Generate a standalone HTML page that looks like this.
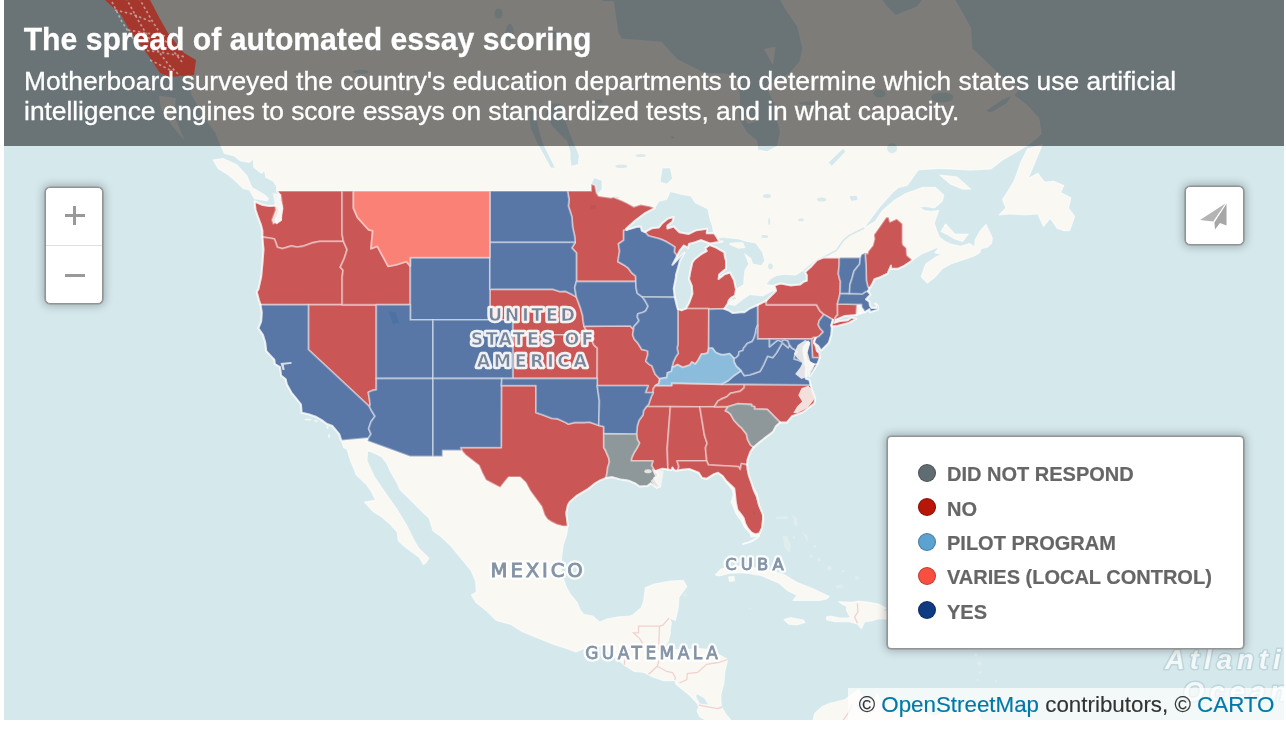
<!DOCTYPE html>
<html lang="en">
<head>
<meta charset="utf-8">
<title>The spread of automated essay scoring</title>
<style>
html,body{margin:0;padding:0;background:#fff;}
body{width:1286px;height:742px;overflow:hidden;position:relative;font-family:"Liberation Sans",Helvetica,Arial,sans-serif;}
#map{position:absolute;left:4px;top:0;width:1280px;height:720px;overflow:hidden;background:#D5E8EC;}
svg.map{position:absolute;left:0;top:0;display:block;}
.header{position:absolute;left:0;top:0;width:1280px;height:146px;background:rgba(0,0,0,.5);}
svg.ak{position:absolute;left:0;top:0;display:block;}
.htext{position:absolute;left:0;top:0;width:1280px;height:146px;color:#fff;}
.htext h1{position:absolute;left:19.7px;top:22.6px;-webkit-text-stroke:.25px #fff;transform:scaleY(1.02);transform-origin:0 27.2px;margin:0;font-size:30.15px;line-height:34px;font-weight:bold;white-space:nowrap;}
.htext p{position:absolute;left:20.1px;top:65.6px;-webkit-text-stroke:.3px #fff;margin:0;font-size:26.4px;line-height:30px;font-weight:normal;width:1260px;white-space:nowrap;}
.ctl{position:absolute;background:#fff;border:1px solid #939393;border-radius:5px;box-shadow:0 0 0 .6px rgba(110,110,110,.55),0 0 8px 2px rgba(0,0,0,.25);box-sizing:border-box;}
.zoom{left:41px;top:187px;width:58px;height:117px;}
.zoom .div{position:absolute;left:0;right:0;top:57px;height:1px;background:#e0e0e0;}
.zoom .h{position:absolute;background:#999;left:18.5px;width:20px;height:3px;}
.zoom .v{position:absolute;background:#999;left:27px;width:3px;height:19px;}
.share{left:1180.5px;top:186px;width:59px;height:59px;}
.legend{left:883px;top:436px;width:357px;height:213px;border-radius:4px;}
.legend ul{list-style:none;margin:0;padding:0;position:absolute;left:30px;top:19px;}
.legend li span{position:relative;left:-1px;top:1.4px;-webkit-text-stroke:.2px #666;}
.legend li{height:34.3px;line-height:34.3px;font-size:20px;font-weight:bold;color:#666;white-space:nowrap;position:relative;padding-left:30px;text-transform:uppercase;}
.legend li i{position:absolute;left:0;top:8px;width:16px;height:16px;border-radius:50%;border:1px solid rgba(0,0,0,.25);}
.attr{position:absolute;right:0;bottom:0;height:32px;line-height:33px;padding:0 9.5px 0 10.5px;background:rgba(255,255,255,.7);font-size:22.35px;color:#333;white-space:nowrap;-webkit-text-stroke:.15px currentColor;}
.attr a{color:#0078A8;text-decoration:none;}
</style>
</head>
<body>
<div id="map">
<svg class="map" viewBox="4 0 1280 720" width="1280" height="720">
<rect x="4" y="0" width="1280" height="720" fill="#D5E8EC"/>
<g fill="#FAF8F3" stroke="#fff" stroke-opacity=".6" stroke-width="1.2" stroke-linejoin="round">
<path d="M-32.9 -73.3L80.9 -73.3L101.4 -15.0L115.0 9.2L119.6 13.6L137.8 13.6L146.9 13.6L152.6 22.2L160.5 37.0L167.4 49.4L174.2 61.7L183.3 75.8L192.4 85.7L191.2 93.5L200.3 109.0L208.3 122.3L216.3 133.5L220.6 144.7L224.4 153.5L234.4 156.0L240.6 161.0L249.4 162.3L253.1 158.5L253.8 167.3L261.9 173.5L264.4 169.8L265.8 177.2L273.3 181.1L276.4 186.0L277.0 190.9L280.0 195.2L279.4 200.3L281.1 203.8L282.3 208.9L281.1 214.8L281.1 219.9L276.6 223.2L275.4 219.9L278.3 214.0L278.9 209.7L277.2 205.5L269.8 206.0L262.9 205.0L254.6 201.5L255.5 209.7L258.4 218.2L261.2 225.7L262.4 230.7L262.4 237.0L263.5 249.6L262.4 264.0L261.2 276.7L258.4 289.3L256.7 291.8L258.9 300.1L260.5 304.7L261.8 312.3L261.2 321.4L258.4 328.3L262.9 334.9L265.2 342.3L266.3 351.1L274.3 359.8L274.9 364.1L280.0 367.0L281.1 375.6L285.7 379.2L286.8 384.2L291.4 392.6L297.1 399.6L301.0 404.5L301.6 412.8L308.4 414.2L316.4 417.0L322.1 420.4L326.6 423.8L332.3 425.9L339.2 434.1L341.2 440.4L343.7 447.6L347.1 449.6L350.5 460.9L354.0 468.8L356.2 474.8L366.5 484.6L371.0 491.1L375.6 500.1L364.4 502.1L373.3 511.7L381.5 516.8L390.4 524.4L397.2 532.0L398.3 540.8L405.2 547.0L419.4 557.6L423.4 564.7L426.2 562.6L428.8 558.2L418.8 548.3L414.3 540.8L406.9 525.7L400.0 514.2L396.4 508.5L390.4 500.1L381.8 487.8L374.4 476.7L367.0 460.9L367.6 450.2L376.7 454.2L381.8 456.9L386.9 463.6L390.4 471.5L397.2 483.3L400.0 489.8L412.0 501.4L422.2 511.7L429.0 518.1L433.0 530.7L441.6 537.0L450.7 545.8L463.0 560.7L471.1 570.6L475.7 581.6L476.3 592.0L471.4 595.0L475.7 602.3L487.1 611.3L496.2 620.4L511.0 624.5L521.2 631.1L537.1 637.7L553.1 644.2L569.3 649.5L575.8 651.9L590.6 645.7L602.0 646.6L611.1 653.1L623.6 664.8L633.9 671.3L644.1 672.5L652.1 676.6L663.4 680.7L674.8 680.7L675.9 684.2L681.6 688.8L689.6 695.2L697.6 703.9L698.7 707.4L697.0 710.9L699.8 716.7L706.7 720.7L710.1 729.4L735.1 729.4L730.6 719.7L726.0 714.4L721.5 706.8L720.9 700.5L720.9 694.7L723.7 684.2L724.9 671.3L727.7 659.5L719.2 654.8L710.1 649.5L696.4 648.3L686.2 650.1L673.7 649.5L665.7 651.3L662.3 648.9L668.0 641.8L670.3 633.5L670.3 629.9L671.4 622.7L669.1 618.0L675.4 620.4L678.2 608.3L678.8 599.9L678.8 597.5L686.8 586.5L683.3 580.4L670.3 581.0L654.3 584.1L645.2 587.7L645.2 589.6L643.5 601.7L641.2 607.7L632.7 615.0L629.3 616.2L619.1 616.8L606.5 619.2L599.7 622.1L592.9 616.2L583.8 614.4L580.0 609.5L577.0 602.3L570.1 593.8L566.7 587.7L561.0 572.4L561.6 557.0L563.3 544.5L566.7 534.5L567.9 525.9L566.2 513.0L567.9 505.3L569.6 502.1L577.0 495.6L588.3 488.9L595.2 483.3L599.7 480.7L606.0 478.0L612.2 477.1L620.2 479.4L624.7 480.0L628.7 480.7L635.0 483.3L639.5 486.5L647.5 485.9L650.9 483.3L656.6 487.8L660.0 486.5L656.6 482.0L654.3 478.0L657.7 476.7L657.7 473.5L655.1 471.7L657.7 470.2L662.3 468.8L668.0 469.5L671.4 470.2L672.5 467.5L673.7 469.5L675.4 470.8L678.0 470.4L681.6 469.8L689.6 469.1L698.7 472.8L702.1 478.0L706.7 479.4L714.1 474.8L718.0 472.8L722.6 476.7L724.9 480.7L728.9 485.5L732.3 489.8L733.4 495.0L731.1 502.1L732.8 505.3L735.7 513.0L738.0 516.8L740.8 520.0L743.1 524.4L744.2 526.9L749.9 533.2L751.0 536.8L756.7 536.4L759.0 535.8L761.9 528.8L763.0 519.3L763.2 515.5L759.6 506.6L757.3 494.3L753.3 487.2L752.2 484.6L748.8 475.4L747.6 469.5L747.1 464.7L747.6 459.6L750.5 451.6L753.7 447.2L758.4 443.1L764.7 438.1L771.0 433.4L773.2 431.4L776.1 425.9L780.1 422.5L786.9 422.5L792.0 416.3L802.8 412.2L814.4 403.4L815.3 398.3L811.9 389.8L810.6 384.9L809.4 379.9L805.7 378.5L805.7 371.3L806.3 365.7L805.4 363.6L804.5 358.4L803.4 351.1L804.0 346.7L808.2 341.5L809.1 343.7L806.8 349.6L805.7 354.0L806.8 359.8L810.2 362.7L813.4 364.3L809.6 370.6L809.6 376.3L813.1 371.3L817.6 363.7L819.9 357.6L819.3 352.8L817.0 351.1L815.9 346.7L814.2 343.0L814.2 340.8L815.7 337.8L814.2 343.0L818.2 345.9L821.0 350.6L827.3 344.5L829.0 342.3L831.3 334.9L831.8 328.2L831.3 325.2L833.0 319.9L831.3 325.2L831.8 326.4L837.5 325.9L848.9 322.9L856.2 318.8L851.2 317.6L847.8 320.3L839.8 321.1L834.1 322.9L835.8 319.9L844.3 316.1L856.2 315.1L861.4 313.1L864.6 312.3L869.4 309.3L869.9 312.0L871.7 311.6L877.9 309.7L877.9 306.2L875.1 303.6L876.8 304.7L877.3 308.1L871.7 308.1L869.9 305.5L869.4 301.6L866.0 299.3L870.5 294.7L868.0 291.3L869.4 288.2L870.5 286.9L872.8 283.0L874.5 279.1L879.6 277.5L887.6 273.6L891.0 265.6L891.0 268.8L897.8 268.8L904.6 265.6L911.7 260.7L922.3 253.6L934.2 248.7L939.9 246.3L934.8 252.8L942.2 254.4L936.5 256.8L925.7 264.0L921.1 276.7L927.4 283.0L935.4 276.7L942.2 268.8L950.7 264.0L962.7 260.0L974.1 256.0L979.7 252.8L980.9 248.7L987.7 247.1L991.7 243.0L992.3 238.1L986.0 224.4L980.3 230.7L975.2 239.8L974.6 247.1L969.5 243.5L960.4 246.3L950.2 243.9L945.0 241.4L939.4 237.3L936.5 229.9L934.2 223.2L938.8 210.6L930.8 211.4L924.0 210.6L919.4 207.2L925.1 206.3L934.2 208.0L942.2 201.2L943.9 195.2L935.4 187.4L922.9 187.4L905.8 193.5L894.4 200.3L882.5 210.6L875.1 221.5L863.7 228.2L871.7 217.3L880.8 205.5L893.3 191.7L898.4 187.4L907.3 185.3L918.3 169.8L939.9 168.4L950.2 168.9L970.6 170.1L991.1 168.9L1002.5 160.0L1023.5 147.8L1032.1 142.1L1041.2 133.5L1038.9 118.5L1026.4 105.1L1013.9 95.5L1019.6 87.6L1000.2 75.8L987.7 63.7L971.8 48.4L970.6 28.5L962.7 13.6L953.6 -1.7L945.6 -37.8L922.9 -37.8L922.9 -0.4L917.2 7.1L905.8 11.4L895.5 15.7L885.3 4.9L881.9 -0.4L877.3 -37.8L782.9 -37.8L780.6 -0.4L785.2 8.1L797.7 26.4L802.8 48.4L800.0 61.7L789.2 74.2L766.4 86.7L774.9 103.2L777.2 118.5L780.6 132.5L777.2 146.4L767.0 151.8L757.9 150.0L756.7 140.9L746.5 132.5L738.5 118.5L739.7 99.3L737.4 76.8L723.7 73.8L705.5 73.8L677.1 59.7L661.2 42.2L621.3 39.0L617.9 32.8L613.4 1.6L602.0 1.6L597.4 -15.0L597.4 -73.3Z"/>
<path d="M213.1 159.8L223.1 158.5L236.9 164.8L246.9 176.0L251.9 187.4L264.4 194.8L268.3 198.6L267.0 201.0L254.4 198.6L249.4 189.8L243.1 188.6L235.6 181.1L228.1 174.8L218.1 168.5Z"/>
<path d="M159.4 96.4L175.3 98.4L174.2 112.8L169.6 116.6L161.7 109.0L159.4 96.4Z"/>
<path d="M166.2 116.6L174.2 116.6L181.0 133.5L183.3 138.1L173.0 126.0L166.2 116.6Z"/>
<path d="M999.1 214.8L1009.3 214.0L1025.3 214.8L1037.8 214.0L1043.5 226.5L1050.3 218.2L1057.1 228.2L1063.9 230.7L1069.6 230.7L1074.7 216.5L1068.5 208.0L1070.8 197.8L1060.5 192.6L1063.9 185.6L1053.7 181.3L1044.6 182.1L1037.8 173.3L1028.1 178.6L1035.5 160.9L1042.3 144.5L1027.5 149.1L1020.7 162.6L1014.4 180.4L1009.3 189.1L1002.5 199.5L1005.9 208.0L999.1 214.8Z"/>
<path d="M941.1 231.5L945.6 224.0L954.7 234.0L968.4 234.0L962.7 241.4L954.7 238.9L947.9 234.8L941.1 231.5Z"/>
<path d="M939.9 175.1L957.0 176.9L970.6 189.1L962.7 189.1L950.2 183.9L939.9 175.1Z"/>
<path d="M741.9 116.6L756.7 120.4L748.8 123.2L741.9 116.6Z"/>
<path d="M764.7 49.4L774.9 47.4L772.7 63.7L764.7 49.4Z"/>
<path d="M715.3 574.8L721.0 569.1L732.4 566.1L753.3 567.8L769.5 570.3L784.0 574.4L797.0 582.4L813.2 588.9L829.3 596.6L826.1 599.2L819.7 600.4L803.5 600.5L792.9 600.5L797.0 595.3L787.3 590.4L779.3 583.3L767.9 578.4L761.4 575.6L748.5 573.4L740.5 572.7L729.1 573.4L719.4 575.9Z"/>
<path d="M728.7 576.9L734.0 576.5L734.3 580.8L729.4 581.3Z"/>
<path d="M784.0 619.5L790.5 617.7L803.5 620.2L805.1 622.5L797.0 625.0L788.9 624.2Z"/>
<path d="M838.7 601.7L852.3 602.3L858.6 601.1L869.4 602.3L878.5 604.1L886.4 608.3L881.9 610.7L892.1 612.5L896.1 616.8L893.3 621.6L889.3 619.2L878.5 618.6L871.7 621.0L864.8 621.6L861.4 628.7L857.4 623.9L848.9 621.6L838.7 621.6L834.7 621.6L826.7 619.8L826.7 616.8L830.7 616.2L839.8 618.0L847.8 618.0L850.6 617.4L846.6 610.7L846.6 606.5L843.2 604.7L838.7 601.7Z"/>
<path d="M908.6 618.0L927.4 619.2L926.3 623.9L909.2 624.5Z"/>
<path d="M792.0 729.4L800.0 729.4L805.7 725.9L812.5 722.5L814.8 713.2L822.7 706.3L829.6 703.4L844.3 699.9L858.6 689.4L862.5 697.0L855.7 705.1L859.1 710.3L866.0 707.4L875.1 699.3L877.3 692.3L879.6 700.5L895.5 703.9L897.8 710.9L911.5 710.9L922.3 711.1L934.2 716.7L943.3 712.6L951.3 710.3L968.4 709.7L979.7 717.8L991.1 729.4Z"/>
<path d="M969.5 709.2L980.9 708.6L979.7 716.7L969.5 716.7Z"/>
</g>
<g fill="#FAF8F3" fill-opacity=".32">
<path d="M782.9 535.8L787.5 536.4L790.9 545.8L789.7 553.3L784.0 547.0L782.9 535.8Z"/>
<path d="M775.5 516.8L787.5 516.1L787.5 518.7L776.1 519.3Z"/>
<path d="M792.0 514.2L797.1 518.7L797.7 525.7L794.3 525.7L793.7 519.3Z"/>
<path d="M801.1 531.4L807.4 535.8L807.4 542.0L805.1 537.0Z"/>
<path d="M835.8 585.9L842.1 584.1L842.6 588.3L836.4 588.3Z"/>
<circle cx="973.5" cy="644.8" r="2.8"/>
<circle cx="975.8" cy="654.8" r="1.7"/>
<circle cx="979.7" cy="663.7" r="2.3"/>
<circle cx="980.1" cy="672.5" r="1.5"/>
<circle cx="977.5" cy="680.1" r="1.1"/>
<circle cx="971.8" cy="693.5" r="1.1"/>
<circle cx="996.2" cy="681.0" r="1.4"/>
<circle cx="970.6" cy="635.0" r="1.4"/>
<circle cx="959.8" cy="632.3" r="1.1"/>
<circle cx="936.5" cy="620.0" r="1.4"/>
<circle cx="937.1" cy="627.2" r="1.5"/>
<circle cx="956.4" cy="623.1" r="1.1"/>
<circle cx="793.7" cy="537.6" r="1.4"/>
<circle cx="814.8" cy="546.4" r="1.7"/>
<circle cx="819.3" cy="559.5" r="1.7"/>
<circle cx="811.3" cy="556.4" r="1.4"/>
<circle cx="829.6" cy="568.1" r="2.3"/>
<circle cx="843.2" cy="571.2" r="1.4"/>
<circle cx="856.9" cy="578.0" r="2.0"/>
<circle cx="685.1" cy="595.0" r="1.7"/>
<circle cx="888.7" cy="692.3" r="1.4"/>
<circle cx="896.7" cy="692.9" r="1.1"/>
<circle cx="877.3" cy="688.8" r="1.1"/>
<circle cx="945.6" cy="706.3" r="2.3"/>
<circle cx="749.9" cy="608.3" r="0.9"/>
</g>
<g fill="#D5E8EC" stroke="#fff" stroke-opacity=".5" stroke-width="1">
<path d="M626.8 229.9L625.9 229.0L635.0 220.7L645.2 213.1L654.9 208.0L658.9 201.2L666.8 199.5L670.3 191.7L678.2 193.5L682.8 194.7L690.7 196.0L695.3 202.9L707.8 208.9L710.1 219.9L712.4 226.5L713.5 233.2L707.2 233.2L707.2 228.7L696.4 230.2L688.5 234.0L679.4 232.3L673.7 226.5L667.4 228.5L667.4 225.7L672.5 221.5L673.7 217.0L668.0 218.5L662.3 223.2L658.9 227.4L652.1 228.2L645.0 232.0L641.8 230.7L640.7 226.5L636.1 227.0L626.8 229.9Z"/>
<path d="M674.8 297.2L677.1 307.0L677.9 309.1L681.6 310.4L686.0 308.4L689.0 303.2L692.4 293.9L691.9 286.2L689.0 279.1L690.2 272.0L692.4 262.4L694.7 259.2L699.8 255.2L702.1 253.6L706.7 251.2L705.5 247.9L709.7 245.0L709.9 243.5L701.0 240.1L695.3 242.2L689.0 243.9L687.9 247.9L683.9 245.5L679.9 250.4L677.1 256.0L672.5 264.8L679.4 257.6L684.5 252.8L679.9 260.8L678.2 267.2L675.9 275.2L675.9 277.5L673.7 288.5L674.8 297.2Z"/>
<path d="M709.7 245.0L715.8 247.4L724.3 252.3L724.9 256.8L726.0 260.8L726.0 268.8L719.2 274.4L718.6 279.1L724.3 274.4L730.0 272.5L734.0 279.9L736.0 289.3L743.6 284.6L744.0 277.5L744.8 270.4L748.8 264.0L744.6 253.6L751.0 258.4L752.8 264.0L761.3 265.6L764.7 260.8L762.4 252.0L755.6 243.0L746.5 241.4L738.5 238.9L729.4 238.1L723.2 237.3L718.0 238.1L716.9 237.3L719.2 241.4L722.6 241.4L718.0 242.2L709.9 243.5Z"/>
<path d="M730.6 299.3L735.1 294.7L736.3 299.3L732.8 300.1Z"/>
<path d="M724.3 308.8L729.4 310.8L732.8 313.1L740.8 312.3L744.2 312.3L749.9 308.5L757.6 305.0L766.3 300.6L776.1 290.8L772.1 291.3L762.4 296.2L757.9 295.5L749.9 294.7L741.9 300.1L735.1 305.5L730.6 304.7L728.3 303.9Z"/>
<path d="M774.4 285.4L765.8 284.6L770.4 279.1L776.6 275.6L784.6 274.4L795.4 275.2L803.4 270.4L805.1 272.0L806.8 275.2L806.8 280.7L803.4 281.9L800.0 284.6L790.9 285.4L780.6 283.5Z"/>
<path d="M660.0 182.1L662.3 168.0L670.3 168.0L672.5 178.6L666.8 183.9Z"/>
<path d="M590.6 185.6L594.0 177.7L602.0 180.4L602.0 189.1L597.4 194.3L594.0 191.7L594.9 185.3Z"/>
<path d="M571.3 166.2L578.1 164.4L579.2 155.4L574.7 144.5L570.1 133.5L565.6 120.4L561.0 103.2L549.7 103.2L545.1 114.7L551.9 126.0L558.8 133.5L566.7 140.9L570.1 151.8L570.1 159.1Z"/>
<path d="M529.2 114.7L536.0 114.7L539.4 129.7L542.8 142.7L555.3 168.0L550.8 168.0L544.0 155.4L536.0 140.9L530.3 127.9Z"/>
<path d="M752.8 511.7L755.6 511.7L755.6 515.5L752.8 515.5Z"/>
<path d="M696.4 693.5L704.4 698.1L708.9 705.1L699.8 703.9L695.9 697.0Z"/>
<path d="M848.9 196.0L856.9 195.2L858.0 200.3L851.2 201.2Z"/>
<path d="M828.4 162.6L843.2 148.2L845.5 151.8L831.8 166.2Z"/>
<path d="M388.1 310.8L396.1 312.3L399.5 322.9L392.6 324.4Z"/>
<path d="M985.4 110.9L1002.5 99.3L1011.6 95.5L1007.0 103.2L991.1 112.8Z"/>
<path d="M838.7 257.6L840.9 257.6L839.8 273.6L838.1 273.6Z"/>
</g>
<g fill="#D5E8EC" fill-opacity=".9">
<ellipse cx="767.0" cy="196.0" rx="4" ry="2"/>
<ellipse cx="821.6" cy="199.5" rx="4.5" ry="2"/>
<ellipse cx="764.7" cy="236.5" rx="3.5" ry="1.6"/>
<ellipse cx="770.4" cy="266.4" rx="2.3" ry="2.8"/>
<ellipse cx="801.1" cy="219.9" rx="3" ry="1.4"/>
<ellipse cx="769.2" cy="221.5" rx="1" ry="3.5"/>
<ellipse cx="621.3" cy="166.2" rx="6" ry="1.8"/>
<ellipse cx="615.6" cy="197.8" rx="3.5" ry="1.3"/>
<ellipse cx="592.9" cy="207.2" rx="3" ry="2.2"/>
<ellipse cx="509.8" cy="32.8" rx="4" ry="9"/>
<ellipse cx="553.1" cy="34.9" rx="5" ry="4"/>
<ellipse cx="533.7" cy="112.8" rx="5" ry="2.5"/>
<ellipse cx="360.8" cy="71.8" rx="8" ry="2"/>
<ellipse cx="892.1" cy="148.2" rx="5" ry="5"/>
<ellipse cx="942.2" cy="97.4" rx="11" ry="5"/>
<ellipse cx="879.6" cy="93.5" rx="6" ry="4"/>
<ellipse cx="809.1" cy="103.2" rx="10" ry="1.8"/>
<ellipse cx="498.5" cy="13.6" rx="4" ry="5"/>
<ellipse cx="478.0" cy="77.8" rx="3.5" ry="2.5"/>
<ellipse cx="640.7" cy="155.4" rx="5" ry="1.5"/>
<ellipse cx="672.5" cy="137.2" rx="2" ry="1"/>
<ellipse cx="598.6" cy="101.3" rx="4" ry="2"/>
</g>
<path d="M729.4 243.0L735.1 242.2L743.1 242.2L745.4 247.9L738.5 248.7L729.4 244.7Z" fill="#FAF8F3"/>
<path d="M98 -3L105 0L121 15L130 31L148 55L160 73L170 77L194 75L196 60L184 53L168 33L160 19L150 0L148 -3Z" fill="#FAF8F3"/>
<path d="M804.5 270.4L817.0 260.0L826.1 256.0L836.4 250.4L843.2 240.6L848.9 235.6L863.7 228.2" fill="none" stroke="#D5E8EC" stroke-width="1.6" stroke-linecap="round"/>
<g fill="none" stroke="#EEC4C4" stroke-width="1.3" stroke-opacity=".75">
<path d="M624.2 664.8L625.3 657.2L630.1 646.9L644.7 646.9L639.5 638.3L633.5 632.9L638.5 632.9L638.5 626.1L659.5 626.1L662.9 625.1L669.1 618.0"/>
<path d="M659.5 626.1L658.7 648.9L662.3 648.9"/>
<path d="M669.7 651.3L659.5 659.0L657.2 666.3L648.6 674.2"/>
<path d="M657.2 666.3L666.8 671.5L672.5 672.5L675.4 677.7L674.8 680.1"/>
<path d="M679.4 683.0L686.8 679.5L687.3 673.6L697.6 672.5L706.7 664.3L718.0 662.5L727.7 659.5"/>
<path d="M698.7 705.1L707.8 706.8L718.0 708.6L722.0 707.1"/>
<path d="M857.4 603.5L858.0 611.9L854.6 616.8L857.4 623.3"/>
<path d="M852.3 704.5L848.9 712.1L843.2 720.1"/>
</g>
<g fill-opacity=".7" stroke="#fff" stroke-width="1.9" stroke-opacity=".4" stroke-linejoin="round">
<g fill="#B51212">
<path d="M277.0 190.9L342.1 190.9L342.1 234.5L343.5 241.4L319.8 241.4L313.0 242.7L302.8 246.3L297.1 247.1L291.4 246.0L282.3 248.7L277.2 247.1L276.0 243.0L274.3 238.9L269.8 238.1L262.4 237.0L262.4 230.7L261.2 225.7L258.4 218.2L255.5 209.7L254.6 201.5L262.9 205.0L269.8 206.0L277.2 205.5L278.9 209.7L278.3 214.0L275.4 219.9L276.6 223.2L281.1 219.9L281.1 214.8L282.3 208.9L281.1 203.8L279.4 200.3L280.0 195.2L277.0 190.9Z"/>
<path d="M262.4 237.0L269.8 238.1L274.3 238.9L276.0 243.0L277.2 247.1L282.3 248.7L291.4 246.0L297.1 247.1L302.8 246.3L313.0 242.7L319.8 241.4L343.5 241.4L347.1 249.6L344.3 258.4L340.3 267.2L343.1 270.4L342.2 276.7L342.2 304.7L308.4 304.7L260.5 304.7L258.9 300.1L256.7 291.8L258.4 289.3L261.2 276.7L262.4 264.0L263.5 249.6L262.4 237.0Z"/>
<path d="M308.4 304.7L342.2 304.7L376.3 304.7L376.3 378.5L376.3 389.8L372.2 390.5L368.3 392.4L369.3 398.3L370.2 404.5L369.5 406.6L308.4 349.6L308.4 304.7Z"/>
<path d="M342.1 190.9L353.4 190.9L353.4 208.0L357.4 217.3L368.7 229.9L372.7 230.7L371.0 248.7L377.3 246.3L383.0 256.8L388.1 266.4L396.1 264.8L406.3 261.6L410.3 266.0L410.3 304.7L376.3 304.7L342.2 304.7L342.2 276.7L343.1 270.4L340.3 267.2L344.3 258.4L347.1 249.6L343.5 241.4L342.1 234.5L342.1 190.9Z"/>
<path d="M489.9 289.3L553.1 289.3L559.9 291.6L565.6 291.3L572.4 294.7L576.4 297.0L578.1 301.6L580.4 307.8L582.6 315.4L583.2 321.4L584.1 326.2L586.6 331.1L589.4 334.9L512.7 334.9L512.7 319.9L489.9 319.9L489.9 289.3Z"/>
<path d="M512.7 334.9L589.4 334.9L592.9 337.1L594.0 338.6L592.3 341.5L594.0 345.2L597.3 348.0L597.2 378.5L512.8 378.5L512.7 334.9Z"/>
<path d="M501.4 385.6L536.0 385.6L536.0 412.7L542.8 414.9L551.9 418.4L557.6 418.8L565.6 422.5L568.4 424.1L574.7 422.5L583.8 422.5L589.5 422.1L598.8 425.4L603.8 426.6L603.8 433.8L603.8 447.6L605.4 450.2L608.8 458.2L609.4 462.2L607.7 467.5L607.1 472.8L606.0 478.0L599.7 480.7L595.2 483.3L588.3 488.9L577.0 495.6L569.6 502.1L567.9 505.3L566.2 513.0L567.9 525.9L563.3 526.3L556.5 524.4L551.4 521.9L547.4 519.3L544.5 514.9L541.7 506.6L530.3 491.1L525.8 482.6L520.1 477.1L508.7 477.1L504.1 482.6L500.2 487.6L492.8 483.7L485.9 480.0L482.5 473.5L479.1 465.5L465.5 454.9L461.7 450.5L460.7 447.6L501.2 447.6L501.4 385.6Z"/>
<path d="M567.5 190.9L591.2 190.9L591.2 184.2L594.9 185.3L596.3 192.6L598.6 196.0L611.1 197.8L613.4 197.2L621.3 200.3L627.0 202.9L633.9 206.8L640.7 204.6L649.8 206.3L654.9 208.0L645.2 213.1L635.0 220.7L625.9 229.0L626.8 229.9L623.7 230.5L623.7 240.3L618.5 243.9L619.6 251.2L618.5 257.6L617.9 261.6L623.6 264.8L628.2 268.0L631.6 272.8L635.6 276.0L635.9 281.5L576.4 281.5L576.4 252.8L571.8 247.9L575.1 242.4L574.7 236.5L572.6 227.0L571.8 216.5L568.4 206.3L569.0 199.5L567.5 190.9Z"/>
<path d="M584.1 326.2L630.1 325.9L633.6 329.2L632.7 334.9L634.3 339.2L637.8 343.0L641.8 349.6L644.9 350.0L647.7 351.2L647.7 355.0L645.8 361.3L649.8 364.9L651.8 365.6L655.2 374.2L659.7 378.8L658.9 383.5L655.5 385.6L653.2 389.1L653.2 392.6L645.5 392.6L648.1 385.6L597.2 385.6L597.2 378.5L597.3 348.0L594.0 345.2L592.3 341.5L594.0 338.6L592.9 337.1L589.4 334.9L586.6 331.1L584.1 326.2Z"/>
<path d="M677.9 309.1L681.6 310.4L686.0 308.4L708.9 308.4L708.9 309.3L708.7 348.1L707.8 352.8L704.4 354.0L701.5 354.0L698.1 360.2L695.3 364.1L691.9 362.0L689.6 365.2L682.8 367.3L677.4 364.6L673.1 367.3L672.2 367.0L673.1 362.7L675.4 357.6L678.2 353.3L677.1 348.1L677.9 344.5L677.9 309.1Z"/>
<path d="M686.0 308.4L689.0 303.2L692.4 293.9L691.9 286.2L689.0 279.1L690.2 272.0L692.4 262.4L694.7 259.2L699.8 255.2L702.1 253.6L706.7 251.2L705.5 247.9L709.7 245.0L715.8 247.4L724.3 252.3L724.9 256.8L726.0 260.8L726.0 268.8L719.2 274.4L718.6 279.1L724.3 274.4L730.0 272.5L734.0 279.9L736.0 289.3L735.1 295.5L731.1 297.8L728.9 300.1L727.7 303.9L724.3 308.8L708.9 309.3L708.9 308.4L686.0 308.4Z"/>
<path d="M645.0 232.0L652.1 228.2L658.9 227.4L662.3 223.2L668.0 218.5L673.7 217.0L672.5 221.5L667.4 225.7L667.4 228.5L673.7 226.5L679.4 232.3L688.5 234.0L696.4 230.2L707.2 228.7L706.7 233.2L714.1 233.2L716.9 237.3L719.2 241.4L722.6 241.4L718.0 242.2L709.9 243.5L701.0 240.1L695.3 242.2L689.0 243.9L687.9 247.9L683.9 245.5L679.9 250.4L677.1 256.0L674.2 252.0L674.8 247.1L671.4 244.7L665.7 241.4L660.0 238.9L648.4 235.8L645.0 232.0Z"/>
<path d="M655.5 385.6L671.7 385.6L671.7 383.0L689.6 383.5L721.7 384.2L744.4 384.3L744.2 387.7L740.2 391.2L734.0 392.6L730.6 393.3L726.6 396.9L721.5 399.0L718.0 401.0L714.4 406.8L699.8 406.9L670.3 406.6L646.4 406.6L648.6 404.5L650.9 397.6L653.2 392.6L653.2 389.1L655.5 385.6Z"/>
<path d="M646.4 406.6L670.3 406.6L670.3 408.0L667.2 448.9L668.0 469.5L662.3 468.8L657.7 470.2L655.1 471.7L651.5 465.5L652.9 460.9L631.2 460.9L631.6 458.2L633.9 452.9L637.3 447.6L639.5 442.9L637.3 439.5L636.5 434.1L637.3 425.9L639.0 420.4L643.0 414.9L643.5 410.8L646.4 406.6Z"/>
<path d="M670.3 406.6L699.8 406.9L704.6 435.8L707.2 443.5L705.5 447.6L706.1 454.2L706.7 460.9L677.1 460.9L678.8 466.2L678.0 470.4L675.4 470.8L673.7 469.5L672.5 467.5L671.4 470.2L668.0 469.5L667.2 448.9L670.3 408.0L670.3 406.6Z"/>
<path d="M699.8 406.9L714.4 406.8L728.2 406.6L725.4 410.8L728.3 412.2L730.6 414.2L734.0 420.4L738.5 425.2L741.4 427.7L746.5 434.1L747.6 439.5L750.5 444.9L753.7 447.2L750.5 451.6L747.6 459.6L747.1 464.7L741.4 463.6L740.8 466.2L740.2 469.4L738.4 466.6L708.3 464.9L706.7 460.9L706.1 454.2L705.5 447.6L707.2 443.5L704.6 435.8L699.8 406.9Z"/>
<path d="M678.0 470.4L678.8 466.2L677.1 460.9L706.7 460.9L708.3 464.9L738.4 466.6L740.2 469.4L740.8 466.2L741.4 463.6L747.1 464.7L747.6 469.5L748.8 475.4L751.6 483.3L754.0 490.6L756.7 496.3L759.0 505.3L762.9 514.7L763.0 519.3L762.1 527.7L759.6 533.2L755.6 534.5L751.5 532.6L747.6 528.2L745.1 523.6L743.6 518.1L741.4 514.9L737.4 509.9L735.7 501.8L735.1 495.0L734.2 488.5L731.1 485.5L726.0 480.7L722.6 476.1L718.0 472.8L714.1 474.1L706.7 478.7L702.1 478.0L698.7 472.8L689.6 469.1L681.6 469.8L678.0 470.4Z"/>
<path d="M810.6 384.9L744.4 384.3L744.2 387.7L740.2 391.2L734.0 392.6L730.6 393.3L726.6 396.9L721.5 399.0L718.0 401.0L714.4 406.8L728.2 406.6L737.4 403.8L751.6 404.5L751.7 406.1L754.7 406.6L754.5 409.1L767.3 409.4L780.1 422.5L786.9 422.5L792.0 416.3L802.8 412.2L814.4 403.4L815.3 398.3L811.9 389.8L810.6 384.9Z"/>
<path d="M811.5 339.0L813.6 337.2L815.7 337.8L814.2 340.8L814.2 343.0L815.9 346.7L817.0 351.1L819.3 352.8L819.9 357.6L812.5 357.5L811.5 339.0Z"/>
<path d="M757.6 305.0L766.3 300.6L766.3 304.7L816.5 304.7L819.9 310.8L824.0 314.5L819.3 320.6L818.2 324.7L819.9 328.2L823.3 331.9L819.0 336.3L815.7 337.8L813.6 337.2L811.5 339.0L769.5 339.0L757.6 339.0L757.6 325.3L757.6 305.0Z"/>
<path d="M766.3 300.6L776.1 290.8L774.4 285.4L780.6 283.5L790.9 285.4L800.0 284.6L803.4 281.9L806.8 280.7L806.8 275.2L805.1 272.0L811.3 266.4L817.0 260.0L823.3 257.6L839.3 257.6L839.2 265.6L838.3 273.6L839.8 279.9L840.4 280.7L840.2 293.2L837.5 303.9L837.6 315.4L836.9 315.4L834.9 318.4L835.8 319.9L834.1 322.9L839.8 321.1L847.8 320.3L851.2 317.6L856.2 318.8L848.9 322.9L837.5 325.9L831.8 326.4L831.3 325.2L833.0 319.9L824.0 314.5L819.9 310.8L816.5 304.7L766.3 304.7L766.3 300.6Z"/>
<path d="M837.5 303.9L856.9 304.4L856.2 315.1L844.3 316.1L835.8 319.9L834.9 318.4L836.9 315.4L837.6 315.4L837.5 303.9Z"/>
<path d="M865.1 252.8L867.7 253.6L868.2 251.2L872.8 245.5L874.5 238.9L873.9 234.8L877.3 229.9L886.2 217.2L888.7 217.3L889.9 221.9L896.7 218.8L902.5 223.7L902.5 242.2L902.9 244.7L906.4 247.9L906.9 255.2L911.5 259.2L911.7 260.7L904.6 265.6L897.8 268.8L891.0 268.8L891.0 265.6L887.6 273.6L879.6 277.5L874.5 279.1L872.8 283.0L870.5 286.9L869.4 288.2L868.0 287.4L866.3 280.4L866.0 265.6L865.1 252.8Z"/>

</g>
<g fill="#133F85">
<path d="M260.5 304.7L308.4 304.7L308.4 349.6L369.5 406.6L371.6 410.8L375.0 416.3L371.0 421.8L368.7 428.6L371.0 434.1L368.5 437.9L341.2 440.4L339.2 434.1L332.3 425.9L326.6 423.8L322.1 420.4L316.4 417.0L308.4 414.2L301.6 412.8L301.0 404.5L297.1 399.6L291.4 392.6L286.8 384.2L285.7 379.2L281.1 375.6L280.0 367.0L274.9 364.1L274.3 359.8L266.3 351.1L265.2 342.3L262.9 334.9L258.4 328.3L261.2 321.4L261.8 312.3L260.5 304.7Z"/>
<path d="M410.3 266.0L410.3 257.6L489.9 257.6L489.9 289.3L489.9 319.9L433.0 319.9L410.3 319.9L410.3 304.7L410.3 266.0Z"/>
<path d="M376.3 304.7L410.3 304.7L410.3 319.9L433.0 319.9L433.0 378.5L376.3 378.5L376.3 304.7Z"/>
<path d="M376.3 378.5L433.0 378.5L433.0 456.5L410.0 456.5L367.5 441.0L368.5 437.9L371.0 434.1L368.7 428.6L371.0 421.8L375.0 416.3L371.6 410.8L369.5 406.6L370.2 404.5L369.3 398.3L368.3 392.4L372.2 390.5L376.3 389.8L376.3 378.5Z"/>
<path d="M433.0 319.9L489.9 319.9L512.7 319.9L512.7 334.9L512.8 378.5L501.9 378.5L433.0 378.5L433.0 319.9Z"/>
<path d="M433.0 378.5L501.9 378.5L501.4 385.6L501.2 447.6L460.7 447.6L461.7 450.5L442.6 450.5L442.6 456.5L433.0 456.5L433.0 378.5Z"/>
<path d="M489.9 190.9L567.5 190.9L569.0 199.5L568.4 206.3L571.8 216.5L572.6 227.0L574.7 236.5L575.1 242.4L489.9 242.4L489.9 190.9Z"/>
<path d="M489.9 242.4L575.1 242.4L571.8 247.9L576.4 252.8L576.4 281.5L574.7 287.7L576.4 297.0L572.4 294.7L565.6 291.3L559.9 291.6L553.1 289.3L489.9 289.3L489.9 257.6L489.9 242.4Z"/>
<path d="M501.9 378.5L512.8 378.5L597.2 378.5L597.2 385.6L599.4 401.0L598.8 425.4L589.5 422.1L583.8 422.5L574.7 422.5L568.4 424.1L565.6 422.5L557.6 418.8L551.9 418.4L542.8 414.9L536.0 412.7L536.0 385.6L501.4 385.6L501.9 378.5Z"/>
<path d="M576.4 281.5L635.9 281.5L636.1 287.7L637.3 293.2L642.5 296.9L645.2 300.9L648.1 306.2L645.8 310.8L643.0 312.3L637.8 313.8L637.3 316.9L639.0 320.6L637.3 322.9L633.9 326.7L633.6 329.2L630.1 325.9L584.1 326.2L583.2 321.4L582.6 315.4L580.4 307.8L578.1 301.6L576.4 297.0L574.7 287.7L576.4 281.5Z"/>
<path d="M597.2 385.6L648.1 385.6L645.5 392.6L653.2 392.6L650.9 397.6L648.6 404.5L646.4 406.6L643.5 410.8L643.0 414.9L639.0 420.4L637.3 425.9L636.5 434.1L603.8 433.8L603.8 426.6L598.8 425.4L599.4 401.0L597.2 385.6Z"/>
<path d="M626.8 229.9L636.1 227.0L640.7 226.5L641.8 230.7L645.0 232.0L648.4 235.8L660.0 238.9L665.7 241.4L671.4 244.7L674.8 247.1L674.2 252.0L677.1 256.0L672.5 264.8L679.4 257.6L684.5 252.8L679.9 260.8L678.2 267.2L675.9 275.2L675.9 277.5L673.7 288.5L674.8 297.2L642.5 296.9L637.3 293.2L636.1 287.7L635.9 281.5L635.6 276.0L631.6 272.8L628.2 268.0L623.6 264.8L617.9 261.6L618.5 257.6L619.6 251.2L618.5 243.9L623.7 240.3L623.7 230.5L626.8 229.9Z"/>
<path d="M642.5 296.9L674.8 297.2L677.1 307.0L677.9 309.1L677.9 344.5L677.1 348.1L678.2 353.3L675.4 357.6L673.1 362.7L672.2 367.0L671.4 371.3L667.4 372.8L666.8 377.5L659.7 378.8L655.2 374.2L651.8 365.6L649.8 364.9L645.8 361.3L647.7 355.0L647.7 351.2L644.9 350.0L641.8 349.6L637.8 343.0L634.3 339.2L632.7 334.9L633.6 329.2L633.9 326.7L637.3 322.9L639.0 320.6L637.3 316.9L637.8 313.8L643.0 312.3L645.8 310.8L648.1 306.2L645.2 300.9L642.5 296.9Z"/>
<path d="M708.9 309.3L724.3 308.8L729.4 310.8L732.8 313.1L740.8 312.3L744.2 312.3L749.9 308.5L757.6 305.0L757.6 325.3L756.2 328.9L755.4 333.8L753.9 338.6L752.2 341.5L747.1 343.6L745.8 345.6L743.6 348.1L743.1 350.3L739.1 351.8L738.5 355.4L735.7 358.1L734.0 358.4L729.4 353.6L724.9 354.7L720.9 354.7L715.8 352.5L712.4 348.1L708.7 348.1L708.9 309.3Z"/>
<path d="M741.1 370.8L744.4 375.6L749.6 374.9L753.9 373.5L760.1 371.3L763.6 364.9L767.5 356.2L772.7 357.6L776.4 353.0L782.3 342.8L788.3 347.7L789.5 344.9L792.0 348.1L794.8 349.6L797.2 351.8L794.8 355.4L794.3 359.1L797.7 359.8L802.2 362.0L806.3 365.7L805.7 371.3L805.7 378.5L809.4 379.9L810.6 384.9L744.4 384.3L721.7 384.2L728.3 380.6L734.0 375.6L741.1 370.8Z"/>
<path d="M813.4 364.3L809.6 370.6L809.6 376.3L813.1 371.3L817.6 363.7L813.4 364.3Z"/>
<path d="M734.0 358.4L735.7 358.1L738.5 355.4L739.1 351.8L743.1 350.3L743.6 348.1L745.8 345.6L747.1 343.6L752.2 341.5L753.9 338.6L755.4 333.8L756.2 328.9L757.6 325.3L757.6 339.0L769.5 339.0L769.5 346.7L774.4 342.7L777.7 340.0L781.2 341.5L784.3 339.3L788.0 340.8L789.5 344.9L788.3 347.7L782.3 342.8L776.4 353.0L772.7 357.6L767.5 356.2L763.6 364.9L760.1 371.3L753.9 373.5L749.6 374.9L744.4 375.6L741.1 370.8L736.3 366.3L734.0 361.7L734.0 358.4Z"/>
<path d="M769.5 339.0L811.5 339.0L812.5 357.5L819.9 357.6L817.6 363.7L813.4 364.3L810.2 362.7L806.8 359.8L805.7 354.0L806.8 349.6L809.1 343.7L808.2 341.5L804.0 346.7L803.4 351.1L804.5 358.4L805.4 363.6L806.3 365.7L802.2 362.0L797.7 359.8L794.3 359.1L794.8 355.4L797.2 351.8L794.8 349.6L792.0 348.1L789.5 344.9L788.0 340.8L784.3 339.3L781.2 341.5L777.7 340.0L774.4 342.7L769.5 346.7L769.5 339.0Z"/>
<path d="M824.0 314.5L833.0 319.9L831.3 325.2L831.8 328.2L831.3 334.9L829.0 342.3L827.3 344.5L821.0 350.6L818.2 345.9L814.2 343.0L814.2 340.8L815.7 337.8L819.0 336.3L823.3 331.9L819.9 328.2L818.2 324.7L819.3 320.6L824.0 314.5Z"/>
<path d="M840.2 293.2L849.5 293.5L862.5 293.9L863.1 293.3L866.0 291.4L868.0 291.3L870.5 294.7L866.0 299.3L869.4 301.6L869.9 305.5L871.7 308.1L877.3 308.1L876.8 304.7L875.1 303.6L877.9 306.2L877.9 309.7L871.7 311.6L869.9 312.0L869.4 309.3L864.6 312.3L863.7 309.7L862.2 308.1L861.6 306.2L861.6 304.4L856.9 304.4L837.5 303.9L840.2 293.2Z"/>
<path d="M839.3 257.6L860.3 257.5L859.7 264.0L854.0 271.2L852.3 277.5L850.0 284.6L849.5 293.5L840.2 293.2L840.4 280.7L839.8 279.9L838.3 273.6L839.2 265.6L839.3 257.6Z"/>
<path d="M860.3 257.5L861.4 254.4L865.1 252.8L866.0 265.6L866.3 280.4L868.0 287.4L869.4 288.2L868.0 291.3L866.0 291.4L863.1 293.3L862.5 293.9L849.5 293.5L850.0 284.6L852.3 277.5L854.0 271.2L859.7 264.0L860.3 257.5Z"/>
</g>
<g fill="#5CA2D1">
<path d="M672.2 367.0L673.1 367.3L677.4 364.6L682.8 367.3L689.6 365.2L691.9 362.0L695.3 364.1L698.1 360.2L701.5 354.0L704.4 354.0L707.8 352.8L708.7 348.1L712.4 348.1L715.8 352.5L720.9 354.7L724.9 354.7L729.4 353.6L734.0 358.4L734.0 361.7L736.3 366.3L741.1 370.8L734.0 375.6L728.3 380.6L721.7 384.2L689.6 383.5L671.7 383.0L671.7 385.6L655.5 385.6L658.9 383.5L659.7 378.8L666.8 377.5L667.4 372.8L671.4 371.3L672.2 367.0Z"/>
</g>
<g fill="#F84F40">
<path d="M353.4 190.9L489.9 190.9L489.9 242.4L489.9 257.6L410.3 257.6L410.3 266.0L406.3 261.6L396.1 264.8L388.1 266.4L383.0 256.8L377.3 246.3L371.0 248.7L372.7 230.7L368.7 229.9L357.4 217.3L353.4 208.0L353.4 190.9Z"/>
</g>
<g fill="#5F6D73">
<path d="M603.8 433.8L636.5 434.1L637.3 439.5L639.5 442.9L637.3 447.6L633.9 452.9L631.6 458.2L631.2 460.9L652.9 460.9L651.5 465.5L655.1 471.7L657.7 473.5L657.7 476.7L654.3 478.0L656.6 482.0L660.0 486.5L656.6 487.8L650.9 483.3L647.5 485.9L639.5 486.5L635.0 483.3L628.7 480.7L624.7 480.0L620.2 479.4L612.2 477.1L606.0 478.0L607.1 472.8L607.7 467.5L609.4 462.2L608.8 458.2L605.4 450.2L603.8 447.6L603.8 433.8Z"/>
<path d="M728.2 406.6L737.4 403.8L751.6 404.5L751.7 406.1L754.7 406.6L754.5 409.1L767.3 409.4L780.1 422.5L776.1 425.9L773.2 431.4L771.0 433.4L764.7 438.1L758.4 443.1L753.7 447.2L750.5 444.9L747.6 439.5L746.5 434.1L741.4 427.7L738.5 425.2L734.0 420.4L730.6 414.2L728.3 412.2L725.4 410.8L728.2 406.6Z"/>
</g>
</g>
<g fill="none" stroke="#fff" stroke-opacity=".62" stroke-width="2" stroke-linejoin="round" stroke-linecap="round">
<path d="M277.0 190.9L280.0 195.2L279.4 200.3L281.1 203.8L282.3 208.9L281.1 214.8L281.1 219.9L276.6 223.2L275.4 219.9L278.3 214.0L278.9 209.7L277.2 205.5L269.8 206.0L262.9 205.0L254.6 201.5"/>
<path d="M254.6 201.5L255.5 209.7L258.4 218.2L261.2 225.7L262.4 230.7L262.4 237.0"/>
<path d="M262.4 237.0L263.5 249.6L262.4 264.0L261.2 276.7L258.4 289.3L256.7 291.8L258.9 300.1L260.5 304.7"/>
<path d="M260.5 304.7L261.8 312.3L261.2 321.4L258.4 328.3L262.9 334.9L265.2 342.3L266.3 351.1L274.3 359.8L274.9 364.1L280.0 367.0L281.1 375.6L285.7 379.2L286.8 384.2L291.4 392.6L297.1 399.6L301.0 404.5L301.6 412.8L308.4 414.2L316.4 417.0L322.1 420.4L326.6 423.8L332.3 425.9L339.2 434.1L341.2 440.4"/>
<path d="M567.9 525.9L566.2 513.0L567.9 505.3L569.6 502.1L577.0 495.6L588.3 488.9L595.2 483.3L599.7 480.7L606.0 478.0"/>
<path d="M606.0 478.0L612.2 477.1L620.2 479.4L624.7 480.0L628.7 480.7L635.0 483.3L639.5 486.5L647.5 485.9L650.9 483.3L656.6 487.8L660.0 486.5L656.6 482.0L654.3 478.0L657.7 476.7L657.7 473.5L655.1 471.7"/>
<path d="M655.1 471.7L657.7 470.2L662.3 468.8L668.0 469.5"/>
<path d="M668.0 469.5L671.4 470.2L672.5 467.5L673.7 469.5L675.4 470.8L678.0 470.4"/>
<path d="M678.0 470.4L681.6 469.8L689.6 469.1L698.7 472.8L702.1 478.0L706.7 478.7L714.1 474.1L718.0 472.8L722.6 476.1L726.0 480.7L731.1 485.5L734.2 488.5L735.1 495.0L735.7 501.8L737.4 509.9L741.4 514.9L743.6 518.1L745.1 523.6L747.6 528.2L751.5 532.6L755.6 534.5L759.6 533.2L762.1 527.7L763.0 519.3L762.9 514.7L759.0 505.3L756.7 496.3L754.0 490.6L751.6 483.3L748.8 475.4L747.6 469.5L747.1 464.7"/>
<path d="M747.1 464.7L747.6 459.6L750.5 451.6L753.7 447.2"/>
<path d="M753.7 447.2L758.4 443.1L764.7 438.1L771.0 433.4L773.2 431.4L776.1 425.9L780.1 422.5"/>
<path d="M780.1 422.5L786.9 422.5L792.0 416.3L802.8 412.2L814.4 403.4L815.3 398.3L811.9 389.8L810.6 384.9"/>
<path d="M806.3 365.7L805.7 371.3L805.7 378.5L809.4 379.9L810.6 384.9"/>
<path d="M806.3 365.7L805.4 363.6L804.5 358.4L803.4 351.1L804.0 346.7L808.2 341.5L809.1 343.7L806.8 349.6L805.7 354.0L806.8 359.8L810.2 362.7L813.4 364.3"/>
<path d="M813.4 364.3L809.6 370.6L809.6 376.3L813.1 371.3L817.6 363.7"/>
<path d="M817.6 363.7L819.9 357.6"/>
<path d="M815.7 337.8L814.2 340.8L814.2 343.0L815.9 346.7L817.0 351.1L819.3 352.8L819.9 357.6"/>
<path d="M833.0 319.9L831.3 325.2L831.8 328.2L831.3 334.9L829.0 342.3L827.3 344.5L821.0 350.6L818.2 345.9L814.2 343.0L814.2 340.8L815.7 337.8"/>
<path d="M835.8 319.9L834.1 322.9L839.8 321.1L847.8 320.3L851.2 317.6L856.2 318.8L848.9 322.9L837.5 325.9L831.8 326.4L831.3 325.2L833.0 319.9"/>
<path d="M856.2 315.1L844.3 316.1L835.8 319.9"/>
<path d="M864.6 312.3L861.4 313.1L856.2 315.1"/>
<path d="M868.0 291.3L870.5 294.7L866.0 299.3L869.4 301.6L869.9 305.5L871.7 308.1L877.3 308.1L876.8 304.7L875.1 303.6L877.9 306.2L877.9 309.7L871.7 311.6L869.9 312.0L869.4 309.3L864.6 312.3"/>
<path d="M869.4 288.2L868.0 291.3"/>
<path d="M911.7 260.7L904.6 265.6L897.8 268.8L891.0 268.8L891.0 265.6L887.6 273.6L879.6 277.5L874.5 279.1L872.8 283.0L870.5 286.9L869.4 288.2"/>
<path d="M626.8 229.9L625.9 229.0L635.0 220.7L645.2 213.1L654.9 208.0"/>
<path d="M626.8 229.9L636.1 227.0L640.7 226.5L641.8 230.7L645.0 232.0"/>
<path d="M645.0 232.0L652.1 228.2L658.9 227.4L662.3 223.2L668.0 218.5L673.7 217.0L672.5 221.5L667.4 225.7L667.4 228.5L673.7 226.5L679.4 232.3L688.5 234.0L696.4 230.2L707.2 228.7L706.7 233.2L714.1 233.2L716.9 237.3L719.2 241.4L722.6 241.4L718.0 242.2L709.9 243.5L701.0 240.1L695.3 242.2L689.0 243.9L687.9 247.9L683.9 245.5L679.9 250.4L677.1 256.0"/>
<path d="M677.1 256.0L672.5 264.8L679.4 257.6L684.5 252.8L679.9 260.8L678.2 267.2L675.9 275.2L675.9 277.5L673.7 288.5L674.8 297.2"/>
<path d="M674.8 297.2L677.1 307.0L677.9 309.1"/>
<path d="M677.9 309.1L681.6 310.4L686.0 308.4"/>
<path d="M686.0 308.4L689.0 303.2L692.4 293.9L691.9 286.2L689.0 279.1L690.2 272.0L692.4 262.4L694.7 259.2L699.8 255.2L702.1 253.6L706.7 251.2L705.5 247.9L709.7 245.0L715.8 247.4L724.3 252.3L724.9 256.8L726.0 260.8L726.0 268.8L719.2 274.4L718.6 279.1L724.3 274.4L730.0 272.5L734.0 279.9L736.0 289.3L735.1 295.5L731.1 297.8L728.9 300.1L727.7 303.9L724.3 308.8"/>
<path d="M724.3 308.8L729.4 310.8L732.8 313.1L740.8 312.3L744.2 312.3L749.9 308.5L757.6 305.0"/>
<path d="M766.3 300.6L757.6 305.0"/>
<path d="M766.3 300.6L776.1 290.8L774.4 285.4L780.6 283.5L790.9 285.4L800.0 284.6L803.4 281.9L806.8 280.7L806.8 275.2L805.1 272.0L811.3 266.4L817.0 260.0L823.3 257.6L839.3 257.6"/>
<path d="M759.0 535.8L755.6 538.9L749.9 542.0L743.1 543.9" stroke-opacity=".8"/>
<path d="M273.3 193.6L280.8 194.8L282.6 207.3L280.8 219.9L273.3 223.7L272.0 219.9L275.8 209.9L274.5 199.8Z" fill="#FAF8F3" fill-opacity=".85" stroke-opacity=".3"/>
<g fill="#FAF8F3" fill-opacity=".8" stroke="none"><ellipse cx="648" cy="471.2" rx="3.6" ry="2"/><path d="M280.5 363L291.5 362L291.5 363.8L283.8 364.8L284.6 370L282.6 370Z"/><ellipse cx="308" cy="419.5" rx="3.5" ry="1"/><ellipse cx="316" cy="421" rx="2" ry=".9"/><ellipse cx="327.5" cy="427" rx="1" ry="2"/><ellipse cx="329" cy="436" rx="1" ry="2.2"/><path d="M651.8 469.3L663.8 471.1L661.1 486.4L656.2 487.5L650.7 480.9L655.1 476.6Z"/><path fill-opacity=".85" d="M793.9 353.8L797.7 345.1L805.2 340.1L810.2 342.6L807.7 352.6L810.2 361.4L815.2 363.9L812.7 370.1L807.7 376.4L801.5 378.9L795.2 373.9L800.2 367.6L802.7 362.6L797.7 358.8Z"/><path fill-opacity=".85" d="M801.5 388.3L808.3 385.8L812.7 390.2L815.5 397.7L807.7 407.7L797.7 413.0L793.3 413.0L797.1 406.5L802.1 401.5L798.3 395.2Z"/></g>
</g>
<g font-family="'DejaVu Sans','Liberation Sans',sans-serif">
<text x="531.5" y="321.3" font-size="17.4" textLength="87.0" lengthAdjust="spacing" text-anchor="middle" font-weight="bold" fill="none" stroke="#fff" stroke-opacity=".9" stroke-width="4.6" stroke-linejoin="round">UNITED</text><text x="531.5" y="321.3" font-size="17.4" textLength="87.0" lengthAdjust="spacing" text-anchor="middle" font-weight="bold" fill="#75859A" stroke="#fff" stroke-opacity=".85" stroke-width="0.55">UNITED</text>
<text x="532.1" y="345.1" font-size="17.4" textLength="122.6" lengthAdjust="spacing" text-anchor="middle" font-weight="bold" fill="none" stroke="#fff" stroke-opacity=".9" stroke-width="4.6" stroke-linejoin="round">STATES OF</text><text x="532.1" y="345.1" font-size="17.4" textLength="122.6" lengthAdjust="spacing" text-anchor="middle" font-weight="bold" fill="#75859A" stroke="#fff" stroke-opacity=".85" stroke-width="0.55">STATES OF</text>
<text x="531.9" y="367.0" font-size="17.4" textLength="110.2" lengthAdjust="spacing" text-anchor="middle" font-weight="bold" fill="none" stroke="#fff" stroke-opacity=".9" stroke-width="4.6" stroke-linejoin="round">AMERICA</text><text x="531.9" y="367.0" font-size="17.4" textLength="110.2" lengthAdjust="spacing" text-anchor="middle" font-weight="bold" fill="#75859A" stroke="#fff" stroke-opacity=".85" stroke-width="0.55">AMERICA</text>
<text x="536.7" y="577.2" font-size="19.6" textLength="92.2" lengthAdjust="spacing" text-anchor="middle" font-weight="normal" fill="none" stroke="#fff" stroke-opacity=".9" stroke-width="5.5" stroke-linejoin="round">MEXICO</text><text x="536.7" y="577.2" font-size="19.6" textLength="92.2" lengthAdjust="spacing" text-anchor="middle" font-weight="normal" fill="#8494A6" stroke="#8494A6" stroke-width="0.9">MEXICO</text>
<text x="754.4" y="569.9" font-size="16.4" textLength="58.4" lengthAdjust="spacing" text-anchor="middle" font-weight="normal" fill="none" stroke="#fff" stroke-opacity=".9" stroke-width="5.3999999999999995" stroke-linejoin="round">CUBA</text><text x="754.4" y="569.9" font-size="16.4" textLength="58.4" lengthAdjust="spacing" text-anchor="middle" font-weight="normal" fill="#8494A6" stroke="#8494A6" stroke-width="0.8">CUBA</text>
<text x="651.5" y="659.0" font-size="17" textLength="132.6" lengthAdjust="spacing" text-anchor="middle" font-weight="normal" fill="none" stroke="#fff" stroke-opacity=".9" stroke-width="5.3999999999999995" stroke-linejoin="round">GUATEMALA</text><text x="651.5" y="659.0" font-size="17" textLength="132.6" lengthAdjust="spacing" text-anchor="middle" font-weight="normal" fill="#8494A6" stroke="#8494A6" stroke-width="0.8">GUATEMALA</text>
</g>
<g font-family="'Liberation Sans',Helvetica,Arial,sans-serif" font-style="italic" font-weight="bold" fill="#fff" fill-opacity=".8" stroke="#9FBFC8" stroke-opacity=".45" stroke-width="3" stroke-linejoin="round" style="paint-order:stroke" font-size="27.5" letter-spacing="5">
<text x="1165" y="669">Atlantic</text>
<text x="1183" y="701">Ocean</text>
</g>
</svg>
<div class="header"></div>
<svg class="ak" viewBox="4 0 240 90" width="240" height="90">
<path d="M98 -3L105 0L121 15L130 31L148 55L160 73L170 77L194 75L196 60L184 53L168 33L160 19L150 0L148 -3Z" fill="#B81609" fill-opacity=".68"/>
<g fill="none" stroke="#D9CFCB" stroke-opacity=".6" stroke-width="1.7" stroke-dasharray="2.5 2.5">
<path d="M126 -2L138 20L150 40L168 64L180 76"/>
<path d="M139 -2L151 19L163 38L182 62"/>
<path d="M115 10L132 14L152 22"/>
<path d="M128 30L146 33L166 36"/>
<path d="M142 50L160 52L186 57"/>
<path d="M150 60L170 70"/>
<path d="M112 2L122 22L134 40"/>
</g></svg>
<div class="htext">
<h1>The spread of automated essay scoring</h1>
<p><span style="letter-spacing:.03px">Motherboard surveyed the country's education departments to determine which states use artificial</span><br><span style="letter-spacing:-.057px">intelligence engines to score essays on standardized tests, and in what capacity.</span></p>
</div>
<div class="ctl zoom"><span class="h" style="top:26px"></span><span class="v" style="top:18px"></span><span class="div"></span><span class="h" style="top:86px"></span></div>
<div class="ctl share"><svg width="59" height="59" viewBox="0 0 59 59" style="position:absolute;left:-1px;top:-1px"><path d="M15 34 L40.4 17.6 L28.2 35.5 Z" fill="#b4b4b4"/><path d="M41.5 17.8 L41.5 39.4 L35 37 L30 43.4 L29.4 36.4 Z" fill="#a6a6a6"/></svg></div>
<div class="ctl legend"><ul>
<li><i style="background:#5F6D73"></i><span>Did not respond</span></li>
<li><i style="background:#B81609"></i><span>No</span></li>
<li><i style="background:#5CA2D1"></i><span>Pilot program</span></li>
<li><i style="background:#F84F40"></i><span>Varies (local control)</span></li>
<li><i style="background:#0F3B82"></i><span>Yes</span></li>
</ul></div>
<div class="attr">© <a>OpenStreetMap</a> contributors, © <a>CARTO</a></div>
</div>
</body>
</html>
